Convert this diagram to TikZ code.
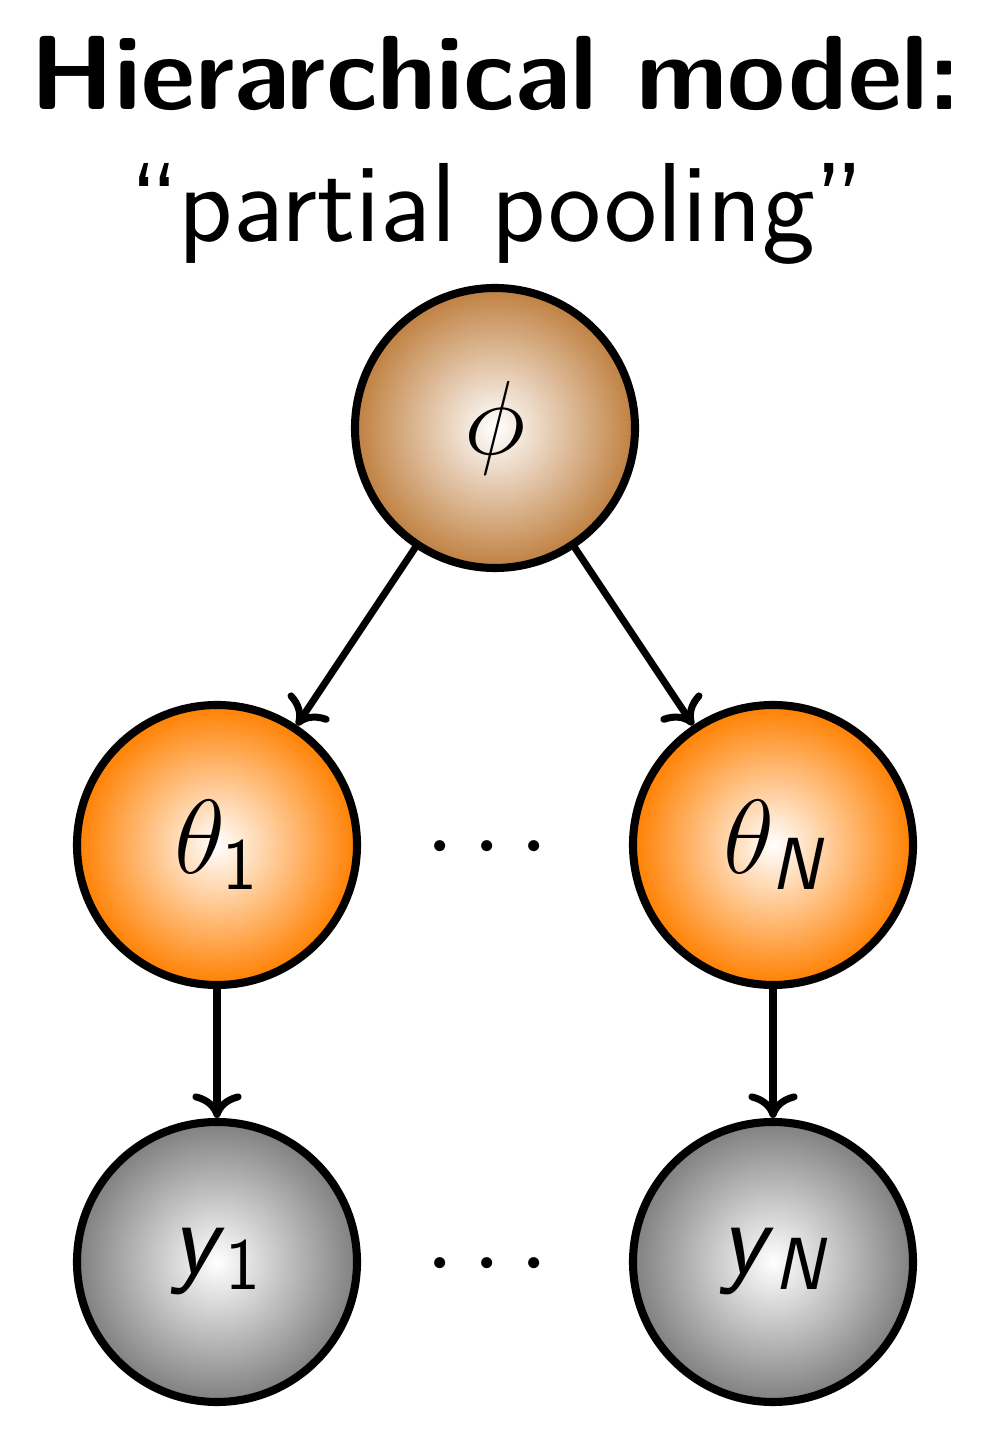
\RequirePackage{fix-cm}
\documentclass[tikz,border=0pt]{standalone}
\usepackage{amsmath}
\usepackage{tikz}
\usetikzlibrary{arrows.meta,positioning}

\begin{document}
\begin{tikzpicture}[
                >={To[length=7pt,width=14pt]},
                link/.style={->,draw,line width=2pt,line cap=round}]
        \tikzset{
                basic/.style  = {draw, circle, line width=2.3pt, minimum size=2.8cm,
                                inner sep=0pt, font=\fontsize{30}{36}\selectfont},
                hyper/.style  = {basic, inner color=white, outer color=brown},
                param/.style  = {basic, inner color=white, outer color=orange},
                data/.style   = {basic, inner color=white, outer color=gray},
                dots/.style   = {font=\fontsize{30}{36}\selectfont}
        }
        \useasboundingbox (0,0) rectangle (9.94,14.4);

        % title
        \node[anchor=base, font=\fontsize{30}{36}\selectfont\sffamily\bfseries]
                (title) at (4.96,13.30) {Hierarchical model:};
        \node[anchor=base, font=\fontsize{32}{38}\selectfont\sffamily]
                (subtitle) at (4.97,11.98) {``partial pooling''};

        % top level
        \node[hyper] (phi) at (4.95,10.12) {$\phi$};

        % group parameters
        \node[param] (t1) at (2.17,5.95) {$\theta_{\textsf{1}}$};
        \node[param] (tN) at (7.73,5.95) {$\theta_{\textsf{\itshape N}}$};
        \node[dots]  (tdots) at (4.96,5.91) {$\cdots$};

        % observations
        \node[data] (y1) at (2.17,1.78) {\textsf{\itshape y}$_{\textsf{1}}$};
        \node[data] (yN) at (7.73,1.78) {\textsf{\itshape y}$_{\textsf{\itshape N}}$};
        \node[dots]  (ydots) at (4.96,1.74) {$\cdots$};

        % arrows
        \draw[link] (phi) -- (t1);
        \draw[link] (phi) -- (tN);
        \draw[link] (t1) -- (y1);
        \draw[link] (tN) -- (yN);
\end{tikzpicture}
\end{document}
